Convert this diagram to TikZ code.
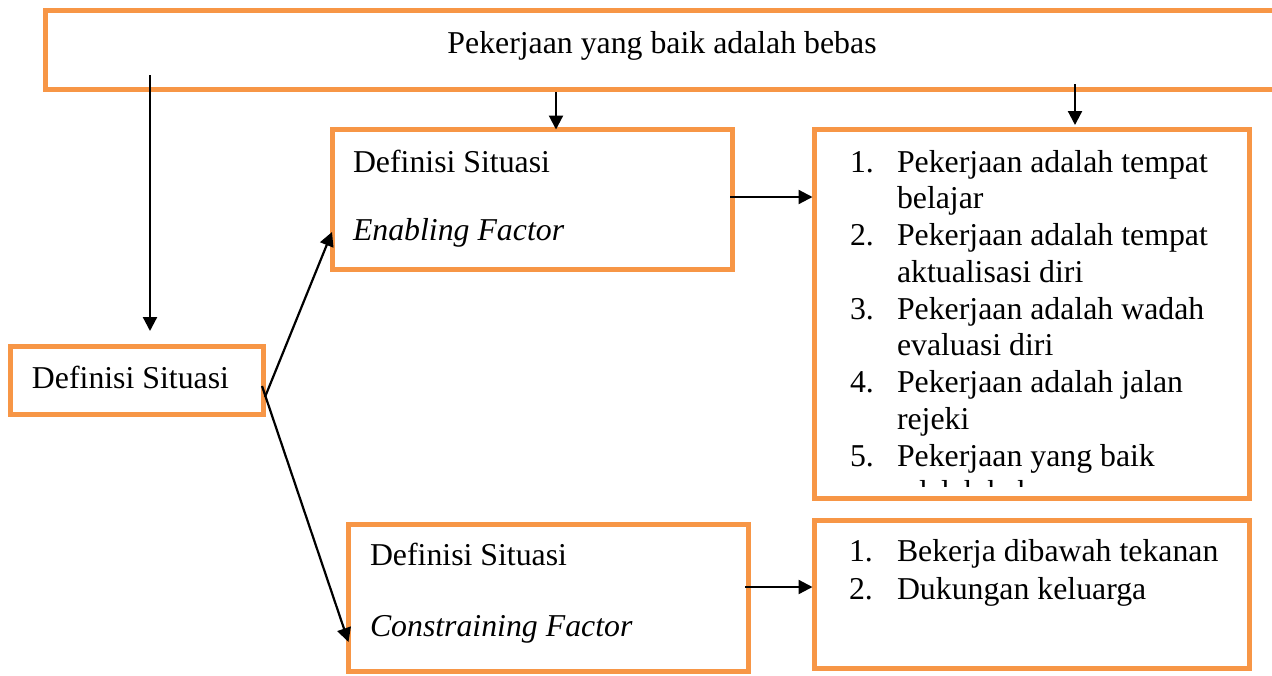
\documentclass[tikz,border=0pt]{standalone}
\usepackage{fontspec}
\setmainfont{Liberation Serif}
\usetikzlibrary{arrows.meta}
\definecolor{boxorange}{HTML}{F79646}
\begin{document}
\begin{tikzpicture}[x=0.5pt,y=-0.5pt,
  box/.style={draw=boxorange,line width=2.5pt,rectangle,inner sep=0pt,outer sep=0pt},
  txt/.style={inner sep=0pt,outer sep=0pt,anchor=base west,font=\fontsize{15.9pt}{18pt}\selectfont},
  arr/.style={-{Triangle[length=7pt,width=7pt]},line width=1.1pt,black}]
\useasboundingbox (0,0) rectangle (1272,675);
\clip (0,0) rectangle (1272,675);
% boxes
\node[box,minimum width=622.25pt,minimum height=39.5pt] (top) at (667.75,50) {};
\node[box,minimum width=126.5pt,minimum height=34pt] (lbox) at (136.5,380) {};
\node[box,minimum width=200.25pt,minimum height=70pt] (ebox) at (532.25,199.5) {};
\node[box,minimum width=199.75pt,minimum height=73.25pt] (cbox) at (548.25,597.75) {};
\node[box,minimum width=217.5pt,minimum height=184.25pt] (lst1) at (1032,313.75) {};
\node[box,minimum width=217.5pt,minimum height=73.75pt] (lst2) at (1032,594.25) {};
% texts
\node[txt,anchor=base] (toptext) at (662,53) {Pekerjaan yang baik adalah bebas};
\node[txt] (ltext) at (32,388) {Definisi Situasi};
\node[txt] (etext1) at (353,172) {Definisi Situasi};
\node[txt] (etext2) at (353,240) {\itshape Enabling Factor};
\node[txt] (ctext1) at (370,565) {Definisi Situasi};
\node[txt] (ctext2) at (370,636) {\itshape Constraining Factor};
% list 1
\node[txt] (n1) at (850,172) {1.};
\node[txt] (l1a) at (897,172) {Pekerjaan adalah tempat};
\node[txt] (l1b) at (897,208.75) {belajar};
\node[txt] (n2) at (850,245.5) {2.};
\node[txt] (l2a) at (897,245.5) {Pekerjaan adalah tempat};
\node[txt] (l2b) at (897,282.25) {aktualisasi diri};
\node[txt] (n3) at (850,319) {3.};
\node[txt] (l3a) at (897,319) {Pekerjaan adalah wadah};
\node[txt] (l3b) at (897,355.75) {evaluasi diri};
\node[txt] (n4) at (850,392.5) {4.};
\node[txt] (l4a) at (897,392.5) {Pekerjaan adalah jalan};
\node[txt] (l4b) at (897,429.25) {rejeki};
\node[txt] (n5) at (850,466) {5.};
\node[txt] (l5a) at (897,466) {Pekerjaan yang baik};
\begin{scope}
\clip (814.5,129.5) rectangle (1249.5,486);
\node[txt] (l5b) at (897,502.75) {adalah bebas};
\end{scope}
% list 2
\node[txt] (m1) at (849,561) {1.};
\node[txt] (k1) at (897,561) {Bekerja dibawah tekanan};
\node[txt] (m2) at (849,599) {2.};
\node[txt] (k2) at (897,599) {Dukungan keluarga};
% connectors
\coordinate (a1) at (150,75);
\draw[arr,shorten >=7.5pt] (a1) -- (a1 |- lbox.north);
\coordinate (b1) at (556,92);
\draw[arr] (b1) -- (b1 |- ebox.north);
\coordinate (c1) at (1075,84);
\draw[arr,shorten >=2.25pt] (c1) -- (c1 |- lst1.north);
\coordinate (d1) at (730,197);
\draw[arr,shorten >=1pt] (d1) -- (d1 -| lst1.west);
\coordinate (e1) at (745,587);
\draw[arr,shorten >=1pt] (e1) -- (e1 -| lst2.west);
\draw[arr] ([xshift=1pt,yshift=-8.5pt]lbox.east) -- ([yshift=18.75pt]ebox.south west);
\draw[arr] ([xshift=-0.5pt,yshift=-3pt]lbox.east) -- ([yshift=14.5pt]cbox.south west);
\end{tikzpicture}
\end{document}
